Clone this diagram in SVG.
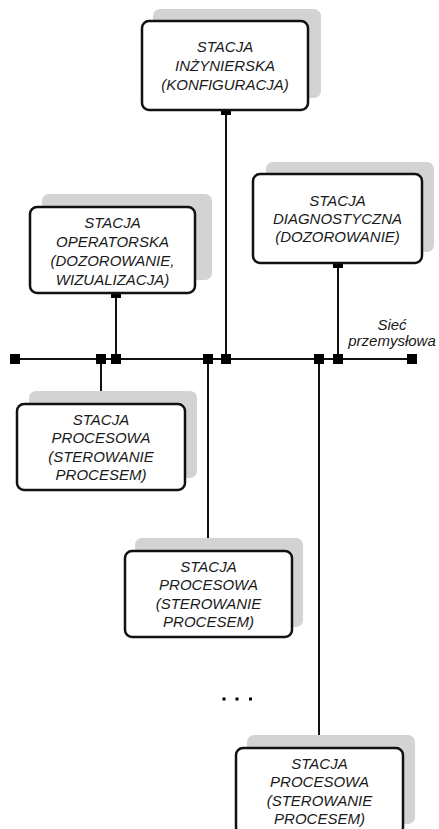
<svg xmlns="http://www.w3.org/2000/svg" width="439" height="829" viewBox="0 0 439 829">
  <style>
    .shadow { fill: #d3d3d3; }
    .box { fill: #ffffff; stroke: #111111; stroke-width: 2.5; }
    .lbl { font-family: "Liberation Sans", Arial, sans-serif; font-style: italic; font-size: 15px; fill: #1a1a1a; text-anchor: middle; }
    .wire { stroke: #111111; stroke-width: 2; fill: none; }
    .pin { fill: #000000; }
  </style>
  <rect width="439" height="829" fill="#ffffff"/>

  <!-- network bus and drops -->
  <g id="connectors">
    <line class="wire" x1="15" y1="359" x2="412" y2="359"/>
    <line class="wire" x1="226" y1="110" x2="226" y2="359"/>
    <line class="wire" x1="116" y1="293" x2="116" y2="359"/>
    <line class="wire" x1="338" y1="263" x2="338" y2="359"/>
    <line class="wire" x1="101" y1="359" x2="101" y2="404"/>
    <line class="wire" x1="208" y1="359" x2="208" y2="551"/>
    <line class="wire" x1="319" y1="359" x2="319" y2="748"/>
    <!-- bus terminals and taps -->
    <rect class="pin" x="10" y="354" width="10" height="10"/>
    <rect class="pin" x="407" y="354" width="10" height="10"/>
    <rect class="pin" x="96" y="354" width="10" height="10"/>
    <rect class="pin" x="111" y="354" width="10" height="10"/>
    <rect class="pin" x="203" y="354" width="10" height="10"/>
    <rect class="pin" x="221" y="354" width="10" height="10"/>
    <rect class="pin" x="314" y="354" width="10" height="10"/>
    <rect class="pin" x="333" y="354" width="10" height="10"/>
    <!-- station ports -->
    <rect class="pin" x="221" y="105" width="10" height="10"/>
    <rect class="pin" x="111" y="288" width="10" height="10"/>
    <rect class="pin" x="333" y="258" width="10" height="10"/>
    <rect class="pin" x="96" y="399" width="10" height="10"/>
    <rect class="pin" x="203" y="546" width="10" height="10"/>
    <rect class="pin" x="314" y="743" width="10" height="10"/>
  </g>

  <g id="bus-label">
    <text class="lbl" x="392" y="330">Sieć</text>
    <text class="lbl" x="392" y="346">przemysłowa</text>
  </g>

  <g id="stacja-inzynierska">
    <rect class="shadow" x="153" y="9" width="168" height="89" rx="7"/>
    <rect class="box" x="142" y="21" width="166" height="89" rx="7"/>
    <text class="lbl" x="225" y="52">STACJA</text>
    <text class="lbl" x="225" y="71">INŻYNIERSKA</text>
    <text class="lbl" x="225" y="90">(KONFIGURACJA)</text>
  </g>

  <g id="stacja-operatorska">
    <rect class="shadow" x="42" y="194" width="170" height="86" rx="7"/>
    <rect class="box" x="30" y="207" width="165" height="86" rx="7"/>
    <text class="lbl" x="112.5" y="228">STACJA</text>
    <text class="lbl" x="112.5" y="247">OPERATORSKA</text>
    <text class="lbl" x="112.5" y="266">(DOZOROWANIE,</text>
    <text class="lbl" x="112.5" y="284.5">WIZUALIZACJA)</text>
  </g>

  <g id="stacja-diagnostyczna">
    <rect class="shadow" x="266" y="162" width="168" height="90" rx="7"/>
    <rect class="box" x="253" y="174" width="169" height="89" rx="7"/>
    <text class="lbl" x="337.5" y="206">STACJA</text>
    <text class="lbl" x="337.5" y="224">DIAGNOSTYCZNA</text>
    <text class="lbl" x="337.5" y="242">(DOZOROWANIE)</text>
  </g>

  <g id="stacja-procesowa-1">
    <rect class="shadow" x="29" y="391" width="168" height="87" rx="7"/>
    <rect class="box" x="17" y="404" width="168" height="86" rx="7"/>
    <text class="lbl" x="101" y="425">STACJA</text>
    <text class="lbl" x="101" y="443">PROCESOWA</text>
    <text class="lbl" x="101" y="461.5">(STEROWANIE</text>
    <text class="lbl" x="101" y="480">PROCESEM)</text>
  </g>

  <g id="stacja-procesowa-2">
    <rect class="shadow" x="135" y="538" width="168" height="89" rx="7"/>
    <rect class="box" x="125" y="551" width="167" height="86" rx="7"/>
    <text class="lbl" x="208.5" y="571.5">STACJA</text>
    <text class="lbl" x="208.5" y="590">PROCESOWA</text>
    <text class="lbl" x="208.5" y="608.5">(STEROWANIE</text>
    <text class="lbl" x="208.5" y="627">PROCESEM)</text>
  </g>

  <g id="stacja-procesowa-n">
    <rect class="shadow" x="247" y="735" width="168" height="89" rx="7"/>
    <rect class="box" x="236" y="748" width="167" height="86" rx="7"/>
    <text class="lbl" x="319.5" y="768.5">STACJA</text>
    <text class="lbl" x="319.5" y="787">PROCESOWA</text>
    <text class="lbl" x="319.5" y="805.5">(STEROWANIE</text>
    <text class="lbl" x="319.5" y="824">PROCESEM)</text>
  </g>

  <!-- ellipsis: further stations -->
  <g id="ellipsis">
    <rect class="pin" x="222.5" y="697.5" width="3" height="3"/>
    <rect class="pin" x="235.5" y="697.5" width="3" height="3"/>
    <rect class="pin" x="249" y="697.5" width="3" height="3"/>
  </g>
</svg>
